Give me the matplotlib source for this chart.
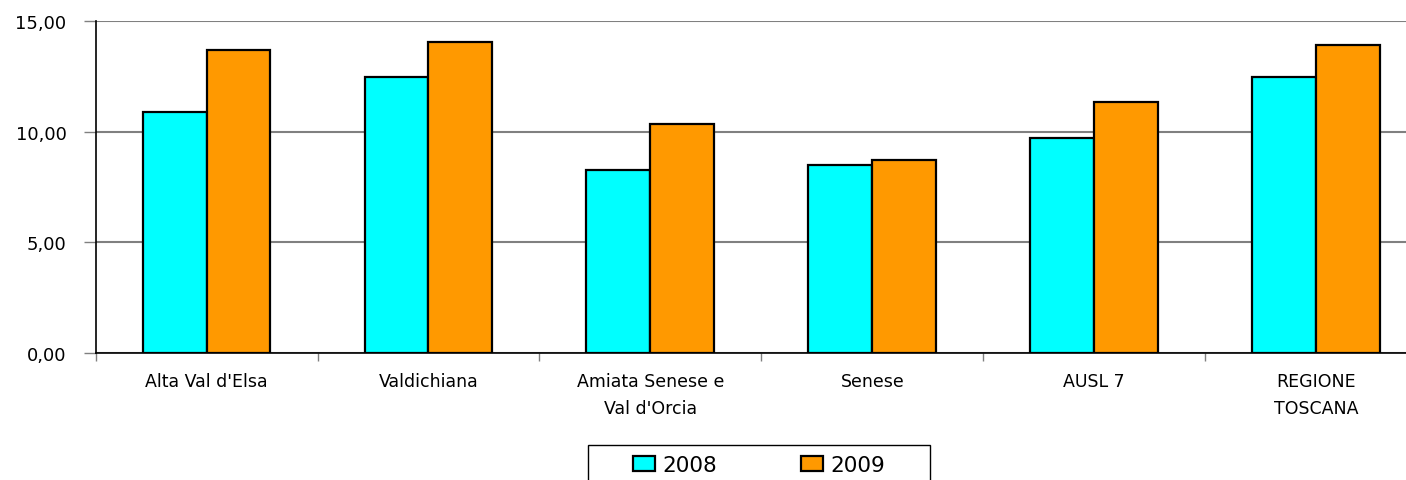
import matplotlib

matplotlib.use("Agg")
import matplotlib.pyplot as plt
import numpy as np
from matplotlib.patches import Rectangle
from matplotlib.ticker import FuncFormatter, FixedLocator

plt.rcParams["font.family"] = ["DejaVu Sans"]

categories = [
    "Alta Val d'Elsa",
    "Valdichiana",
    "Amiata Senese e\nVal d'Orcia",
    "Senese",
    "AUSL 7",
    "REGIONE\nTOSCANA",
]
values_2008 = [10.89, 12.47, 8.27, 8.50, 9.72, 12.47]
values_2009 = [13.69, 14.05, 10.35, 8.72, 11.34, 13.92]
series_labels = ["2008", "2009"]

W, H = 1406, 481
fig = plt.figure(figsize=(W / 100, H / 100), dpi=100)
# the plot area runs a little past the right edge of the image, as in the original
ax = fig.add_axes([0.068, 0.264, 0.947, 0.690])

x = np.arange(len(categories))
width = 0.288
bars_a = ax.bar(x - width / 2, values_2008, width, color="#00FFFF",
                edgecolor="black", linewidth=1.6, label=series_labels[0], zorder=3)
bars_b = ax.bar(x + width / 2, values_2009, width, color="#FF9900",
                edgecolor="black", linewidth=1.6, label=series_labels[1], zorder=3)

ax.set_xlim(-0.5, len(categories) - 0.5)
ax.set_ylim(0, 15)
ax.set_yticks([0, 5, 10, 15])
ax.yaxis.set_major_formatter(FuncFormatter(lambda v, _: f"{v:.2f}".replace(".", ",")))
ax.grid(axis="y", color="#808080", linewidth=1.5, zorder=0)

# category labels centred, tick marks on the boundaries
ax.set_xticks(x)
ax.set_xticklabels(categories, fontsize=12.5, linespacing=1.6)
ax.tick_params(axis="x", length=0, pad=14)
ax.xaxis.set_minor_locator(FixedLocator(np.arange(len(categories) + 1) - 0.5))
ax.tick_params(axis="x", which="minor", length=6, width=1, color="#808080")
ax.tick_params(axis="y", labelsize=13, length=9, width=1, color="#808080", pad=12)

for side in ("top", "right"):
    ax.spines[side].set_visible(False)
ax.spines["left"].set_color("black")
ax.spines["bottom"].set_color("black")
ax.spines["left"].set_linewidth(1.2)
ax.spines["bottom"].set_linewidth(1.2)

# legend entries without their own frame; the wide box is drawn separately
fig.legend(
    handles=[bars_a, bars_b],
    labels=series_labels,
    loc="center",
    bbox_to_anchor=(759 / W, 1 - 466 / H),
    ncol=2,
    fontsize=15.5,
    frameon=False,
    handlelength=1.0,
    handleheight=0.75,
    handletextpad=0.35,
    columnspacing=3.9,
    borderpad=0,
)
fig.add_artist(Rectangle((588 / W, -0.05), (930 - 588) / W, 0.05 + 1 - 446 / H,
                         transform=fig.transFigure, fill=False,
                         edgecolor="black", linewidth=1.0))

fig.savefig("out.png", dpi=100)
